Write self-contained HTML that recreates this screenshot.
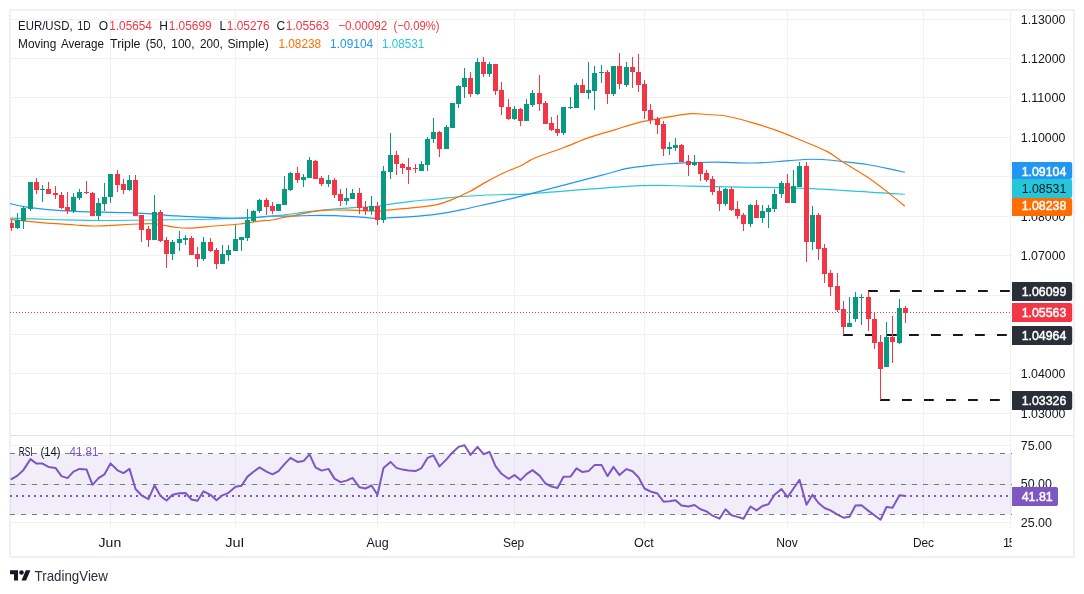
<!DOCTYPE html>
<html lang="en"><head><meta charset="utf-8"><title>EUR/USD 1D chart</title>
<style>html,body{margin:0;padding:0;background:#fff;}body{width:1084px;height:594px;overflow:hidden;}svg{display:block;}text{font-family:"Liberation Sans", Arial, sans-serif;}</style></head><body>
<svg width="1084" height="594" viewBox="0 0 1084 594">
<rect x="0" y="0" width="1084" height="594" fill="#ffffff"/>
<rect x="10" y="10" width="1064" height="547" stroke-width="2" stroke="#eff1f6" fill="none"/>
<g stroke="#f1f1f4" stroke-width="1" shape-rendering="crispEdges">
<line x1="10" y1="19.5" x2="1012" y2="19.5"/>
<line x1="10" y1="58.5" x2="1012" y2="58.5"/>
<line x1="10" y1="97.5" x2="1012" y2="97.5"/>
<line x1="10" y1="137.5" x2="1012" y2="137.5"/>
<line x1="10" y1="176.5" x2="1012" y2="176.5"/>
<line x1="10" y1="216.5" x2="1012" y2="216.5"/>
<line x1="10" y1="255.5" x2="1012" y2="255.5"/>
<line x1="10" y1="295.5" x2="1012" y2="295.5"/>
<line x1="10" y1="334.5" x2="1012" y2="334.5"/>
<line x1="10" y1="373.5" x2="1012" y2="373.5"/>
<line x1="10" y1="413.5" x2="1012" y2="413.5"/>
<line x1="110.5" y1="10" x2="110.5" y2="528"/>
<line x1="235.5" y1="10" x2="235.5" y2="528"/>
<line x1="377.5" y1="10" x2="377.5" y2="528"/>
<line x1="514.5" y1="10" x2="514.5" y2="528"/>
<line x1="644.5" y1="10" x2="644.5" y2="528"/>
<line x1="787.5" y1="10" x2="787.5" y2="528"/>
<line x1="923.5" y1="10" x2="923.5" y2="528"/>
<line x1="1010.5" y1="10" x2="1010.5" y2="528"/>
<line x1="10" y1="445.5" x2="1012" y2="445.5"/>
<line x1="10" y1="484.5" x2="1012" y2="484.5"/>
<line x1="10" y1="522.5" x2="1012" y2="522.5"/>
</g>
<rect x="10" y="453.5" width="1002" height="61" fill="#7e57c2" fill-opacity="0.1"/>
<g stroke="#787b86" stroke-width="1" stroke-dasharray="5 6" shape-rendering="crispEdges">
<line x1="10" y1="453.5" x2="1012" y2="453.5"/>
<line x1="10" y1="484.5" x2="1012" y2="484.5"/>
<line x1="10" y1="514.5" x2="1012" y2="514.5"/>
</g>
<g fill="none" stroke-width="1.2" stroke-linejoin="round" stroke-linecap="butt">
<path stroke="#26c6da" d="M10.1 218.2C16.8 218.4 35.4 219.1 50.5 219.5C65.7 219.8 84.2 220.4 101.0 220.5C117.9 220.6 134.7 220.1 151.6 220.0C168.4 219.8 185.2 219.8 202.1 219.5C218.9 219.1 241.3 218.2 252.6 217.7C263.9 217.2 264.7 217.0 270.1 216.5C275.5 216.0 278.5 215.6 285.3 214.7C292.0 213.9 302.1 212.4 310.5 211.4C318.9 210.5 327.4 209.6 335.8 208.9C344.2 208.2 354.1 207.6 361.0 207.1C368.0 206.7 373.2 206.8 377.5 206.4C381.7 206.0 380.6 205.5 386.3 204.6C392.0 203.8 403.1 202.3 411.6 201.3C420.0 200.4 428.4 199.9 436.8 199.1C445.2 198.3 453.7 197.2 462.1 196.5C470.5 195.9 478.9 195.4 487.3 195.0C495.7 194.6 505.5 194.5 512.6 194.3C519.7 194.1 508.8 195.2 530.0 193.8C551.3 192.3 613.2 187.0 640.0 185.7C666.8 184.5 673.7 186.0 690.5 186.2C707.4 186.5 724.2 187.0 741.0 187.2C757.9 187.5 774.7 187.2 791.6 187.8C808.4 188.3 825.2 189.3 842.1 190.3C858.9 191.2 882.1 192.9 892.6 193.6C903.0 194.2 902.7 194.2 904.7 194.3"/>
<path stroke="#2196f3" d="M10.1 203.5C12.6 204.1 18.5 205.8 25.3 206.8C32.0 207.9 42.1 209.1 50.5 209.9C58.9 210.6 67.4 211.0 75.8 211.4C84.2 211.8 92.6 211.9 101.0 212.1C109.5 212.3 117.9 212.3 126.3 212.6C134.7 212.9 143.1 213.4 151.6 213.9C160.0 214.5 168.4 215.4 176.8 215.9C185.2 216.5 193.7 216.8 202.1 217.2C210.5 217.6 218.9 218.1 227.3 218.2C235.7 218.3 245.5 218.1 252.6 217.7C259.7 217.3 264.7 216.2 270.1 216.0C275.5 215.7 278.5 216.3 285.3 216.2C292.0 216.2 302.1 215.6 310.5 215.5C318.9 215.4 327.4 215.4 335.8 215.7C344.2 216.0 354.1 216.8 361.0 217.2C368.0 217.7 373.2 218.4 377.5 218.5C381.7 218.6 380.6 218.3 386.3 218.0C392.0 217.7 403.1 217.4 411.6 216.7C420.0 216.1 428.4 215.4 436.8 214.2C445.2 213.0 453.7 211.4 462.1 209.7C470.5 208.0 478.9 206.0 487.3 204.1C495.7 202.2 505.5 200.0 512.6 198.3C519.7 196.6 515.1 197.6 530.0 193.8C544.9 189.9 585.9 179.5 602.1 175.2C618.3 171.0 618.9 170.1 627.3 168.4C635.7 166.7 646.3 165.9 652.6 165.1C658.9 164.4 658.9 164.4 665.3 164.0C671.6 163.6 682.1 163.0 690.5 162.7C698.9 162.5 705.3 162.2 715.8 162.2C726.3 162.3 743.1 163.1 753.7 163.0C764.2 162.9 770.5 162.1 778.9 161.5C787.3 160.9 797.0 159.8 804.2 159.5C811.3 159.1 815.5 159.1 821.9 159.5C828.2 159.8 834.5 160.6 842.1 161.5C849.6 162.3 858.9 163.2 867.3 164.5C875.7 165.9 886.4 168.3 892.6 169.6C898.8 170.9 902.7 171.9 904.7 172.3"/>
<path stroke="#ff6d00" d="M10.1 219.5C12.6 219.8 18.5 220.6 25.3 221.2C32.0 221.9 42.1 222.6 50.5 223.3C58.9 223.9 68.6 224.6 75.8 225.0C82.9 225.5 87.1 226.0 93.5 226.0C99.8 226.1 106.1 225.6 113.7 225.3C121.2 224.9 131.8 224.2 138.9 224.0C146.1 223.8 150.3 223.4 156.6 224.0C162.9 224.6 170.9 226.9 176.8 227.5C182.7 228.2 185.7 228.3 192.0 228.1C198.3 227.8 206.7 226.7 214.7 226.0C222.7 225.4 232.0 224.9 240.0 224.0C248.0 223.1 257.7 221.3 262.7 220.7C267.7 220.1 266.3 220.9 270.1 220.3C273.9 219.7 278.5 218.6 285.3 217.2C292.0 215.9 303.8 213.4 310.5 212.2C317.3 211.0 319.4 210.5 325.7 210.2C332.0 209.8 339.8 210.0 348.4 210.2C357.0 210.3 371.1 210.9 377.5 210.9C383.8 210.9 380.6 210.7 386.3 210.2C392.0 209.7 403.1 208.8 411.6 207.9C420.0 207.0 430.1 206.0 436.8 204.6C443.5 203.2 446.5 201.8 452.0 199.6C457.4 197.4 463.8 194.5 469.6 191.5C475.5 188.5 481.4 184.6 487.3 181.4C493.2 178.2 499.5 174.9 505.0 172.3C510.5 169.7 516.0 167.9 520.2 166.0C524.3 164.0 526.9 162.0 530.0 160.4C533.1 158.8 533.2 158.5 538.9 156.3C544.6 154.1 555.8 150.6 564.2 147.5C572.6 144.3 581.0 140.3 589.4 137.4C597.9 134.4 606.3 132.3 614.7 129.8C623.1 127.2 632.0 124.2 640.0 122.2C648.0 120.2 654.3 119.3 662.7 117.9C671.1 116.5 683.4 114.3 690.5 113.7C697.7 113.2 699.8 114.1 705.7 114.5C711.6 114.9 718.3 114.7 725.9 116.0C733.5 117.3 742.7 119.9 751.1 122.3C759.6 124.7 768.0 127.4 776.4 130.4C784.8 133.4 793.2 137.0 801.7 140.5C810.1 144.0 820.2 147.9 826.9 151.4C833.7 154.9 835.3 157.2 842.1 161.5C848.8 165.8 858.9 171.4 867.3 177.1C875.7 182.9 886.4 191.2 892.6 196.1C898.8 200.9 902.7 204.5 904.7 206.2"/>
</g>
<g stroke="#131722" stroke-width="2" stroke-dasharray="9.8 12.2" fill="none">
<line x1="868.0" y1="291" x2="1010" y2="291"/>
<line x1="843.0" y1="335" x2="1010" y2="335"/>
<line x1="880.0" y1="400" x2="1010" y2="400"/>
</g>
<g shape-rendering="crispEdges">
<rect x="11" y="220" width="1" height="11" fill="#f23645"/>
<rect x="10" y="223" width="4" height="5" fill="#f23645"/>
<rect x="17" y="213" width="1" height="16" fill="#089981"/>
<rect x="15" y="220" width="5" height="8" fill="#089981"/>
<rect x="23" y="206" width="1" height="23" fill="#089981"/>
<rect x="21" y="208" width="5" height="13" fill="#089981"/>
<rect x="30" y="182" width="1" height="29" fill="#089981"/>
<rect x="28" y="182" width="5" height="27" fill="#089981"/>
<rect x="36" y="178" width="1" height="16" fill="#f23645"/>
<rect x="34" y="182" width="5" height="8" fill="#f23645"/>
<rect x="42" y="185" width="1" height="17" fill="#089981"/>
<rect x="40" y="189" width="5" height="1" fill="#089981"/>
<rect x="48" y="182" width="1" height="12" fill="#f23645"/>
<rect x="46" y="189" width="5" height="5" fill="#f23645"/>
<rect x="55" y="186" width="1" height="13" fill="#f23645"/>
<rect x="53" y="193" width="5" height="2" fill="#f23645"/>
<rect x="61" y="192" width="1" height="17" fill="#f23645"/>
<rect x="59" y="195" width="5" height="13" fill="#f23645"/>
<rect x="67" y="192" width="1" height="22" fill="#f23645"/>
<rect x="65" y="207" width="5" height="4" fill="#f23645"/>
<rect x="73" y="193" width="1" height="20" fill="#089981"/>
<rect x="71" y="197" width="5" height="14" fill="#089981"/>
<rect x="79" y="189" width="1" height="11" fill="#089981"/>
<rect x="77" y="192" width="5" height="6" fill="#089981"/>
<rect x="86" y="181" width="1" height="13" fill="#f23645"/>
<rect x="84" y="192" width="5" height="1" fill="#f23645"/>
<rect x="92" y="192" width="1" height="24" fill="#f23645"/>
<rect x="90" y="193" width="5" height="23" fill="#f23645"/>
<rect x="98" y="198" width="1" height="22" fill="#089981"/>
<rect x="96" y="203" width="5" height="13" fill="#089981"/>
<rect x="104" y="183" width="1" height="28" fill="#089981"/>
<rect x="102" y="197" width="5" height="7" fill="#089981"/>
<rect x="110" y="174" width="1" height="29" fill="#089981"/>
<rect x="108" y="174" width="5" height="23" fill="#089981"/>
<rect x="117" y="170" width="1" height="22" fill="#f23645"/>
<rect x="115" y="174" width="5" height="11" fill="#f23645"/>
<rect x="123" y="179" width="1" height="15" fill="#f23645"/>
<rect x="121" y="184" width="5" height="6" fill="#f23645"/>
<rect x="129" y="175" width="1" height="16" fill="#089981"/>
<rect x="127" y="180" width="5" height="10" fill="#089981"/>
<rect x="135" y="175" width="1" height="41" fill="#f23645"/>
<rect x="133" y="180" width="5" height="36" fill="#f23645"/>
<rect x="141" y="215" width="1" height="27" fill="#f23645"/>
<rect x="139" y="215" width="5" height="15" fill="#f23645"/>
<rect x="148" y="226" width="1" height="21" fill="#f23645"/>
<rect x="146" y="229" width="5" height="11" fill="#f23645"/>
<rect x="154" y="195" width="1" height="45" fill="#089981"/>
<rect x="152" y="212" width="5" height="28" fill="#089981"/>
<rect x="160" y="210" width="1" height="32" fill="#f23645"/>
<rect x="158" y="212" width="5" height="29" fill="#f23645"/>
<rect x="166" y="237" width="1" height="31" fill="#f23645"/>
<rect x="164" y="240" width="5" height="14" fill="#f23645"/>
<rect x="172" y="240" width="1" height="20" fill="#089981"/>
<rect x="170" y="242" width="5" height="12" fill="#089981"/>
<rect x="179" y="231" width="1" height="20" fill="#089981"/>
<rect x="177" y="239" width="5" height="4" fill="#089981"/>
<rect x="185" y="235" width="1" height="10" fill="#089981"/>
<rect x="183" y="238" width="5" height="2" fill="#089981"/>
<rect x="191" y="236" width="1" height="19" fill="#f23645"/>
<rect x="189" y="238" width="5" height="17" fill="#f23645"/>
<rect x="197" y="247" width="1" height="20" fill="#f23645"/>
<rect x="195" y="254" width="5" height="5" fill="#f23645"/>
<rect x="203" y="237" width="1" height="24" fill="#089981"/>
<rect x="201" y="242" width="5" height="17" fill="#089981"/>
<rect x="210" y="238" width="1" height="14" fill="#f23645"/>
<rect x="208" y="242" width="5" height="9" fill="#f23645"/>
<rect x="216" y="248" width="1" height="21" fill="#f23645"/>
<rect x="214" y="250" width="5" height="14" fill="#f23645"/>
<rect x="222" y="245" width="1" height="19" fill="#089981"/>
<rect x="220" y="254" width="5" height="10" fill="#089981"/>
<rect x="228" y="245" width="1" height="16" fill="#089981"/>
<rect x="226" y="250" width="5" height="5" fill="#089981"/>
<rect x="235" y="225" width="1" height="26" fill="#089981"/>
<rect x="233" y="239" width="5" height="12" fill="#089981"/>
<rect x="241" y="237" width="1" height="14" fill="#089981"/>
<rect x="239" y="237" width="5" height="3" fill="#089981"/>
<rect x="247" y="209" width="1" height="32" fill="#089981"/>
<rect x="245" y="220" width="5" height="18" fill="#089981"/>
<rect x="253" y="210" width="1" height="12" fill="#089981"/>
<rect x="251" y="211" width="5" height="10" fill="#089981"/>
<rect x="259" y="199" width="1" height="14" fill="#089981"/>
<rect x="257" y="200" width="5" height="11" fill="#089981"/>
<rect x="266" y="198" width="1" height="17" fill="#f23645"/>
<rect x="264" y="200" width="5" height="7" fill="#f23645"/>
<rect x="272" y="202" width="1" height="12" fill="#f23645"/>
<rect x="270" y="206" width="5" height="5" fill="#f23645"/>
<rect x="278" y="204" width="1" height="7" fill="#089981"/>
<rect x="276" y="204" width="5" height="7" fill="#089981"/>
<rect x="284" y="176" width="1" height="29" fill="#089981"/>
<rect x="282" y="189" width="5" height="16" fill="#089981"/>
<rect x="290" y="172" width="1" height="19" fill="#089981"/>
<rect x="288" y="173" width="5" height="17" fill="#089981"/>
<rect x="297" y="167" width="1" height="16" fill="#f23645"/>
<rect x="295" y="173" width="5" height="7" fill="#f23645"/>
<rect x="303" y="174" width="1" height="13" fill="#089981"/>
<rect x="301" y="177" width="5" height="3" fill="#089981"/>
<rect x="309" y="157" width="1" height="21" fill="#089981"/>
<rect x="307" y="160" width="5" height="18" fill="#089981"/>
<rect x="315" y="160" width="1" height="19" fill="#f23645"/>
<rect x="313" y="161" width="5" height="18" fill="#f23645"/>
<rect x="321" y="176" width="1" height="10" fill="#f23645"/>
<rect x="319" y="178" width="5" height="6" fill="#f23645"/>
<rect x="328" y="175" width="1" height="12" fill="#089981"/>
<rect x="326" y="180" width="5" height="4" fill="#089981"/>
<rect x="334" y="178" width="1" height="20" fill="#f23645"/>
<rect x="332" y="180" width="5" height="15" fill="#f23645"/>
<rect x="340" y="189" width="1" height="17" fill="#f23645"/>
<rect x="338" y="194" width="5" height="7" fill="#f23645"/>
<rect x="346" y="188" width="1" height="17" fill="#089981"/>
<rect x="344" y="198" width="5" height="3" fill="#089981"/>
<rect x="352" y="189" width="1" height="10" fill="#089981"/>
<rect x="350" y="193" width="5" height="6" fill="#089981"/>
<rect x="359" y="188" width="1" height="26" fill="#f23645"/>
<rect x="357" y="193" width="5" height="15" fill="#f23645"/>
<rect x="365" y="201" width="1" height="14" fill="#f23645"/>
<rect x="363" y="207" width="5" height="4" fill="#f23645"/>
<rect x="371" y="196" width="1" height="19" fill="#089981"/>
<rect x="369" y="206" width="5" height="5" fill="#089981"/>
<rect x="377" y="202" width="1" height="23" fill="#f23645"/>
<rect x="375" y="206" width="5" height="14" fill="#f23645"/>
<rect x="383" y="166" width="1" height="57" fill="#089981"/>
<rect x="381" y="171" width="5" height="49" fill="#089981"/>
<rect x="390" y="133" width="1" height="46" fill="#089981"/>
<rect x="388" y="155" width="5" height="17" fill="#089981"/>
<rect x="396" y="151" width="1" height="24" fill="#f23645"/>
<rect x="394" y="155" width="5" height="9" fill="#f23645"/>
<rect x="402" y="163" width="1" height="11" fill="#f23645"/>
<rect x="400" y="164" width="5" height="4" fill="#f23645"/>
<rect x="408" y="158" width="1" height="26" fill="#f23645"/>
<rect x="406" y="167" width="5" height="3" fill="#f23645"/>
<rect x="415" y="164" width="1" height="9" fill="#f23645"/>
<rect x="413" y="168" width="5" height="1" fill="#f23645"/>
<rect x="421" y="161" width="1" height="10" fill="#089981"/>
<rect x="419" y="164" width="5" height="7" fill="#089981"/>
<rect x="427" y="137" width="1" height="34" fill="#089981"/>
<rect x="425" y="139" width="5" height="26" fill="#089981"/>
<rect x="433" y="118" width="1" height="25" fill="#089981"/>
<rect x="431" y="132" width="5" height="7" fill="#089981"/>
<rect x="439" y="131" width="1" height="26" fill="#f23645"/>
<rect x="437" y="132" width="5" height="17" fill="#f23645"/>
<rect x="446" y="125" width="1" height="24" fill="#089981"/>
<rect x="444" y="127" width="5" height="22" fill="#089981"/>
<rect x="452" y="103" width="1" height="25" fill="#089981"/>
<rect x="450" y="103" width="5" height="25" fill="#089981"/>
<rect x="458" y="85" width="1" height="23" fill="#089981"/>
<rect x="456" y="86" width="5" height="18" fill="#089981"/>
<rect x="464" y="68" width="1" height="30" fill="#089981"/>
<rect x="462" y="78" width="5" height="9" fill="#089981"/>
<rect x="470" y="72" width="1" height="25" fill="#f23645"/>
<rect x="468" y="78" width="5" height="16" fill="#f23645"/>
<rect x="477" y="58" width="1" height="37" fill="#089981"/>
<rect x="475" y="62" width="5" height="32" fill="#089981"/>
<rect x="483" y="57" width="1" height="20" fill="#f23645"/>
<rect x="481" y="62" width="5" height="12" fill="#f23645"/>
<rect x="489" y="62" width="1" height="15" fill="#089981"/>
<rect x="487" y="64" width="5" height="10" fill="#089981"/>
<rect x="495" y="64" width="1" height="31" fill="#f23645"/>
<rect x="493" y="64" width="5" height="27" fill="#f23645"/>
<rect x="501" y="82" width="1" height="33" fill="#f23645"/>
<rect x="499" y="90" width="5" height="17" fill="#f23645"/>
<rect x="508" y="99" width="1" height="21" fill="#f23645"/>
<rect x="506" y="107" width="5" height="12" fill="#f23645"/>
<rect x="514" y="106" width="1" height="14" fill="#089981"/>
<rect x="512" y="109" width="5" height="10" fill="#089981"/>
<rect x="520" y="108" width="1" height="18" fill="#f23645"/>
<rect x="518" y="109" width="5" height="12" fill="#f23645"/>
<rect x="526" y="99" width="1" height="22" fill="#089981"/>
<rect x="524" y="104" width="5" height="17" fill="#089981"/>
<rect x="532" y="90" width="1" height="17" fill="#089981"/>
<rect x="530" y="93" width="5" height="12" fill="#089981"/>
<rect x="539" y="75" width="1" height="36" fill="#f23645"/>
<rect x="537" y="93" width="5" height="11" fill="#f23645"/>
<rect x="545" y="101" width="1" height="23" fill="#f23645"/>
<rect x="543" y="103" width="5" height="21" fill="#f23645"/>
<rect x="551" y="117" width="1" height="14" fill="#f23645"/>
<rect x="549" y="123" width="5" height="7" fill="#f23645"/>
<rect x="557" y="115" width="1" height="21" fill="#f23645"/>
<rect x="555" y="129" width="5" height="4" fill="#f23645"/>
<rect x="563" y="107" width="1" height="28" fill="#089981"/>
<rect x="561" y="107" width="5" height="26" fill="#089981"/>
<rect x="570" y="97" width="1" height="12" fill="#089981"/>
<rect x="568" y="107" width="5" height="1" fill="#089981"/>
<rect x="576" y="83" width="1" height="25" fill="#089981"/>
<rect x="574" y="85" width="5" height="23" fill="#089981"/>
<rect x="582" y="79" width="1" height="14" fill="#f23645"/>
<rect x="580" y="85" width="5" height="8" fill="#f23645"/>
<rect x="588" y="62" width="1" height="37" fill="#089981"/>
<rect x="586" y="90" width="5" height="3" fill="#089981"/>
<rect x="594" y="66" width="1" height="44" fill="#089981"/>
<rect x="592" y="73" width="5" height="18" fill="#089981"/>
<rect x="601" y="65" width="1" height="18" fill="#089981"/>
<rect x="599" y="72" width="5" height="1" fill="#089981"/>
<rect x="607" y="70" width="1" height="34" fill="#f23645"/>
<rect x="605" y="72" width="5" height="22" fill="#f23645"/>
<rect x="613" y="66" width="1" height="30" fill="#089981"/>
<rect x="611" y="66" width="5" height="28" fill="#089981"/>
<rect x="619" y="53" width="1" height="36" fill="#f23645"/>
<rect x="617" y="66" width="5" height="18" fill="#f23645"/>
<rect x="626" y="62" width="1" height="25" fill="#089981"/>
<rect x="624" y="67" width="5" height="18" fill="#089981"/>
<rect x="632" y="57" width="1" height="31" fill="#f23645"/>
<rect x="630" y="67" width="5" height="5" fill="#f23645"/>
<rect x="638" y="54" width="1" height="38" fill="#f23645"/>
<rect x="636" y="72" width="5" height="13" fill="#f23645"/>
<rect x="644" y="80" width="1" height="39" fill="#f23645"/>
<rect x="642" y="84" width="5" height="27" fill="#f23645"/>
<rect x="650" y="104" width="1" height="20" fill="#f23645"/>
<rect x="648" y="110" width="5" height="10" fill="#f23645"/>
<rect x="657" y="117" width="1" height="17" fill="#f23645"/>
<rect x="655" y="119" width="5" height="6" fill="#f23645"/>
<rect x="663" y="121" width="1" height="35" fill="#f23645"/>
<rect x="661" y="124" width="5" height="25" fill="#f23645"/>
<rect x="669" y="142" width="1" height="13" fill="#089981"/>
<rect x="667" y="147" width="5" height="2" fill="#089981"/>
<rect x="675" y="138" width="1" height="13" fill="#089981"/>
<rect x="673" y="145" width="5" height="3" fill="#089981"/>
<rect x="681" y="144" width="1" height="18" fill="#f23645"/>
<rect x="679" y="145" width="5" height="17" fill="#f23645"/>
<rect x="688" y="155" width="1" height="21" fill="#f23645"/>
<rect x="686" y="161" width="5" height="4" fill="#f23645"/>
<rect x="694" y="155" width="1" height="11" fill="#089981"/>
<rect x="692" y="162" width="5" height="3" fill="#089981"/>
<rect x="700" y="162" width="1" height="19" fill="#f23645"/>
<rect x="698" y="162" width="5" height="12" fill="#f23645"/>
<rect x="706" y="170" width="1" height="12" fill="#f23645"/>
<rect x="704" y="173" width="5" height="7" fill="#f23645"/>
<rect x="712" y="176" width="1" height="19" fill="#f23645"/>
<rect x="710" y="179" width="5" height="13" fill="#f23645"/>
<rect x="719" y="187" width="1" height="24" fill="#f23645"/>
<rect x="717" y="191" width="5" height="13" fill="#f23645"/>
<rect x="725" y="188" width="1" height="18" fill="#089981"/>
<rect x="723" y="189" width="5" height="15" fill="#089981"/>
<rect x="731" y="187" width="1" height="24" fill="#f23645"/>
<rect x="729" y="189" width="5" height="21" fill="#f23645"/>
<rect x="737" y="201" width="1" height="18" fill="#f23645"/>
<rect x="735" y="209" width="5" height="7" fill="#f23645"/>
<rect x="743" y="213" width="1" height="18" fill="#f23645"/>
<rect x="741" y="215" width="5" height="9" fill="#f23645"/>
<rect x="750" y="204" width="1" height="23" fill="#089981"/>
<rect x="748" y="205" width="5" height="19" fill="#089981"/>
<rect x="756" y="200" width="1" height="18" fill="#f23645"/>
<rect x="754" y="205" width="5" height="13" fill="#f23645"/>
<rect x="762" y="205" width="1" height="18" fill="#089981"/>
<rect x="760" y="211" width="5" height="7" fill="#089981"/>
<rect x="768" y="205" width="1" height="23" fill="#089981"/>
<rect x="766" y="208" width="5" height="4" fill="#089981"/>
<rect x="774" y="189" width="1" height="23" fill="#089981"/>
<rect x="772" y="194" width="5" height="15" fill="#089981"/>
<rect x="781" y="181" width="1" height="17" fill="#089981"/>
<rect x="779" y="183" width="5" height="11" fill="#089981"/>
<rect x="787" y="174" width="1" height="29" fill="#f23645"/>
<rect x="785" y="183" width="5" height="20" fill="#f23645"/>
<rect x="793" y="170" width="1" height="33" fill="#089981"/>
<rect x="791" y="186" width="5" height="17" fill="#089981"/>
<rect x="799" y="162" width="1" height="25" fill="#089981"/>
<rect x="797" y="166" width="5" height="21" fill="#089981"/>
<rect x="806" y="162" width="1" height="100" fill="#f23645"/>
<rect x="804" y="166" width="5" height="76" fill="#f23645"/>
<rect x="812" y="206" width="1" height="44" fill="#089981"/>
<rect x="810" y="215" width="5" height="27" fill="#089981"/>
<rect x="818" y="213" width="1" height="47" fill="#f23645"/>
<rect x="816" y="215" width="5" height="34" fill="#f23645"/>
<rect x="824" y="244" width="1" height="39" fill="#f23645"/>
<rect x="822" y="248" width="5" height="26" fill="#f23645"/>
<rect x="830" y="270" width="1" height="26" fill="#f23645"/>
<rect x="828" y="273" width="5" height="14" fill="#f23645"/>
<rect x="837" y="273" width="1" height="39" fill="#f23645"/>
<rect x="835" y="286" width="5" height="24" fill="#f23645"/>
<rect x="843" y="301" width="1" height="34" fill="#f23645"/>
<rect x="841" y="309" width="5" height="18" fill="#f23645"/>
<rect x="849" y="297" width="1" height="30" fill="#089981"/>
<rect x="847" y="323" width="5" height="4" fill="#089981"/>
<rect x="855" y="292" width="1" height="30" fill="#089981"/>
<rect x="853" y="297" width="5" height="22" fill="#089981"/>
<rect x="861" y="294" width="1" height="31" fill="#089981"/>
<rect x="859" y="297" width="5" height="1" fill="#089981"/>
<rect x="868" y="291" width="1" height="40" fill="#f23645"/>
<rect x="866" y="297" width="5" height="22" fill="#f23645"/>
<rect x="874" y="312" width="1" height="37" fill="#f23645"/>
<rect x="872" y="319" width="5" height="24" fill="#f23645"/>
<rect x="880" y="335" width="1" height="65" fill="#f23645"/>
<rect x="878" y="342" width="5" height="27" fill="#f23645"/>
<rect x="886" y="322" width="1" height="45" fill="#089981"/>
<rect x="884" y="337" width="5" height="30" fill="#089981"/>
<rect x="892" y="316" width="1" height="47" fill="#f23645"/>
<rect x="890" y="337" width="5" height="5" fill="#f23645"/>
<rect x="899" y="299" width="1" height="45" fill="#089981"/>
<rect x="897" y="308" width="5" height="35" fill="#089981"/>
<rect x="905" y="306" width="1" height="17" fill="#f23645"/>
<rect x="903" y="308" width="5" height="5" fill="#f23645"/>
</g>
<line x1="10" y1="312.5" x2="1012" y2="312.5" stroke="#f23645" stroke-width="1" stroke-dasharray="1 2" shape-rendering="crispEdges"/>
<polyline fill="none" stroke="#7e57c2" stroke-width="2" stroke-linejoin="round" stroke-linecap="round" points="11.5,479.1 17.5,475.6 23.5,469.9 30.5,459.1 36.5,463.6 42.5,463.6 48.5,466.9 55.5,467.9 61.5,476.1 67.5,478.1 73.5,471.6 79.5,468.9 86.5,469.4 92.5,484.8 98.5,478.1 104.5,474.3 110.5,463.4 117.5,470.3 123.5,473.1 129.5,468.9 135.5,489.0 141.5,495.3 148.5,499.2 154.5,485.3 160.5,496.0 166.5,500.5 172.5,494.8 179.5,493.3 185.5,493.0 191.5,499.5 197.5,500.7 203.5,491.3 210.5,494.8 216.5,500.2 222.5,495.3 228.5,492.8 235.5,486.8 241.5,485.8 247.5,476.6 253.5,471.8 259.5,467.4 266.5,471.6 272.5,474.3 278.5,471.1 284.5,464.1 290.5,457.9 297.5,461.9 303.5,461.1 309.5,454.4 315.5,467.4 321.5,470.6 328.5,468.9 334.5,478.6 340.5,482.1 346.5,480.6 352.5,477.8 359.5,487.3 365.5,488.5 371.5,485.5 377.5,494.8 383.5,467.9 390.5,461.9 396.5,467.9 402.5,469.6 408.5,470.6 415.5,471.1 421.5,468.1 427.5,457.9 433.5,455.4 439.5,466.4 446.5,459.4 452.5,452.4 458.5,446.9 464.5,445.2 470.5,454.9 477.5,446.9 483.5,454.2 489.5,451.9 495.5,466.1 501.5,473.8 508.5,478.8 514.5,475.1 520.5,480.1 526.5,474.1 532.5,470.1 539.5,475.6 545.5,483.5 551.5,486.5 557.5,488.0 563.5,476.8 570.5,476.6 576.5,468.4 582.5,472.1 588.5,471.1 594.5,465.1 601.5,464.9 607.5,476.1 613.5,466.9 619.5,475.1 626.5,469.1 632.5,471.3 638.5,477.3 644.5,488.5 650.5,491.5 657.5,493.5 663.5,501.7 669.5,501.2 675.5,500.2 681.5,505.5 688.5,506.5 694.5,505.0 700.5,509.2 706.5,511.4 712.5,515.7 719.5,518.7 725.5,509.2 731.5,515.2 737.5,516.9 743.5,518.7 750.5,506.5 756.5,510.4 762.5,506.0 768.5,504.2 774.5,494.8 781.5,489.0 787.5,497.2 793.5,488.5 799.5,479.8 806.5,504.7 812.5,494.8 818.5,503.0 824.5,508.0 830.5,510.4 837.5,514.7 843.5,517.7 849.5,516.7 855.5,505.5 861.5,505.2 868.5,510.9 874.5,515.2 880.5,519.7 886.5,507.0 892.5,507.7 899.5,495.3 905.5,496.0"/>
<line x1="10" y1="496" x2="1012" y2="496" stroke="#7e57c2" stroke-width="2" stroke-dasharray="2 4" shape-rendering="crispEdges"/>
<rect x="1012" y="11" width="61" height="545" fill="#ffffff"/>
<g stroke="#e0e3eb" shape-rendering="crispEdges" fill="none">
<line x1="10" y1="435.5" x2="1074" y2="435.5" stroke-width="1"/>
</g>
<text x="1020.8" y="23.8" font-size="12.3px" fill="#131722" text-anchor="start" textLength="44.6" lengthAdjust="spacingAndGlyphs" >1.13000</text>
<text x="1020.8" y="62.8" font-size="12.3px" fill="#131722" text-anchor="start" textLength="44.6" lengthAdjust="spacingAndGlyphs" >1.12000</text>
<text x="1020.8" y="101.8" font-size="12.3px" fill="#131722" text-anchor="start" textLength="44.6" lengthAdjust="spacingAndGlyphs" >1.11000</text>
<text x="1020.8" y="141.8" font-size="12.3px" fill="#131722" text-anchor="start" textLength="44.6" lengthAdjust="spacingAndGlyphs" >1.10000</text>
<text x="1020.8" y="180.8" font-size="12.3px" fill="#131722" text-anchor="start" textLength="44.6" lengthAdjust="spacingAndGlyphs" >1.09000</text>
<text x="1020.8" y="220.8" font-size="12.3px" fill="#131722" text-anchor="start" textLength="44.6" lengthAdjust="spacingAndGlyphs" >1.08000</text>
<text x="1020.8" y="259.8" font-size="12.3px" fill="#131722" text-anchor="start" textLength="44.6" lengthAdjust="spacingAndGlyphs" >1.07000</text>
<text x="1020.8" y="299.8" font-size="12.3px" fill="#131722" text-anchor="start" textLength="44.6" lengthAdjust="spacingAndGlyphs" >1.06000</text>
<text x="1020.8" y="338.8" font-size="12.3px" fill="#131722" text-anchor="start" textLength="44.6" lengthAdjust="spacingAndGlyphs" >1.05000</text>
<text x="1020.8" y="377.8" font-size="12.3px" fill="#131722" text-anchor="start" textLength="44.6" lengthAdjust="spacingAndGlyphs" >1.04000</text>
<text x="1020.8" y="417.8" font-size="12.3px" fill="#131722" text-anchor="start" textLength="44.6" lengthAdjust="spacingAndGlyphs" >1.03000</text>
<text x="1020.8" y="449.8" font-size="12.3px" fill="#131722" text-anchor="start" textLength="31.2" lengthAdjust="spacingAndGlyphs" >75.00</text>
<text x="1020.8" y="488.3" font-size="12.3px" fill="#131722" text-anchor="start" textLength="31.2" lengthAdjust="spacingAndGlyphs" >50.00</text>
<text x="1020.8" y="526.8" font-size="12.3px" fill="#131722" text-anchor="start" textLength="31.2" lengthAdjust="spacingAndGlyphs" >25.00</text>
<path d="M1012 162.0H1070.2a2 2 0 0 1 2 2V177.0a2 2 0 0 1 -2 2H1012Z" fill="#2196f3"/>
<text x="1021.7" y="175.9" font-size="12.3px" fill="#ffffff" text-anchor="start" textLength="44.6" lengthAdjust="spacingAndGlyphs" stroke="#ffffff" stroke-width="0.45">1.09104</text>
<path d="M1012 179.0H1070.2a2 2 0 0 1 2 2V196.0a2 2 0 0 1 -2 2H1012Z" fill="#26c6da"/>
<text x="1021.7" y="192.9" font-size="12.3px" fill="#131722" text-anchor="start" textLength="44.6" lengthAdjust="spacingAndGlyphs" >1.08531</text>
<path d="M1012 198.0H1070.2a2 2 0 0 1 2 2V214.0a2 2 0 0 1 -2 2H1012Z" fill="#ff6d00"/>
<text x="1021.7" y="210.4" font-size="12.3px" fill="#ffffff" text-anchor="start" textLength="44.6" lengthAdjust="spacingAndGlyphs" stroke="#ffffff" stroke-width="0.45">1.08238</text>
<path d="M1012 282.0H1070.2a2 2 0 0 1 2 2V299.0a2 2 0 0 1 -2 2H1012Z" fill="#2a2e39"/>
<text x="1021.7" y="296.0" font-size="12.3px" fill="#ffffff" text-anchor="start" textLength="44.6" lengthAdjust="spacingAndGlyphs" stroke="#ffffff" stroke-width="0.45">1.06099</text>
<path d="M1012 303.0H1070.2a2 2 0 0 1 2 2V320.0a2 2 0 0 1 -2 2H1012Z" fill="#f23645"/>
<text x="1021.7" y="316.6" font-size="12.3px" fill="#ffffff" text-anchor="start" textLength="44.6" lengthAdjust="spacingAndGlyphs" stroke="#ffffff" stroke-width="0.45">1.05563</text>
<path d="M1012 326.0H1070.2a2 2 0 0 1 2 2V343.0a2 2 0 0 1 -2 2H1012Z" fill="#2a2e39"/>
<text x="1021.7" y="339.9" font-size="12.3px" fill="#ffffff" text-anchor="start" textLength="44.6" lengthAdjust="spacingAndGlyphs" stroke="#ffffff" stroke-width="0.45">1.04964</text>
<path d="M1012 391.0H1070.2a2 2 0 0 1 2 2V408.0a2 2 0 0 1 -2 2H1012Z" fill="#2a2e39"/>
<text x="1021.7" y="404.9" font-size="12.3px" fill="#ffffff" text-anchor="start" textLength="44.6" lengthAdjust="spacingAndGlyphs" stroke="#ffffff" stroke-width="0.45">1.03326</text>
<path d="M1012 487.0H1056.0a2 2 0 0 1 2 2V504.0a2 2 0 0 1 -2 2H1012Z" fill="#7e57c2"/>
<text x="1021.7" y="500.8" font-size="12.3px" fill="#ffffff" text-anchor="start" textLength="31.0" lengthAdjust="spacingAndGlyphs" stroke="#ffffff" stroke-width="0.45">41.81</text>
<text x="109.9" y="546.7" font-size="12.5px" fill="#131722" text-anchor="middle" textLength="22.6" lengthAdjust="spacingAndGlyphs" >Jun</text>
<text x="234.6" y="546.7" font-size="12.5px" fill="#131722" text-anchor="middle" textLength="18.6" lengthAdjust="spacingAndGlyphs" >Jul</text>
<text x="377.6" y="546.7" font-size="12.5px" fill="#131722" text-anchor="middle" textLength="22.2" lengthAdjust="spacingAndGlyphs" >Aug</text>
<text x="513.6" y="546.7" font-size="12.5px" fill="#131722" text-anchor="middle" textLength="21.2" lengthAdjust="spacingAndGlyphs" >Sep</text>
<text x="643.9" y="546.7" font-size="12.5px" fill="#131722" text-anchor="middle" textLength="19.6" lengthAdjust="spacingAndGlyphs" >Oct</text>
<text x="787.0" y="546.7" font-size="12.5px" fill="#131722" text-anchor="middle" textLength="21.5" lengthAdjust="spacingAndGlyphs" >Nov</text>
<text x="923.5" y="546.7" font-size="12.5px" fill="#131722" text-anchor="middle" textLength="21.1" lengthAdjust="spacingAndGlyphs" >Dec</text>
<clipPath id="tc"><rect x="10" y="528" width="1001.7" height="28"/></clipPath>
<g clip-path="url(#tc)">
<text x="1003.0" y="546.7" font-size="12.5px" fill="#131722" text-anchor="start" letter-spacing="-1.1">15</text>
</g>
<text x="18.1" y="30.3" font-size="12.6px" fill="#131722" text-anchor="start" textLength="54.5" lengthAdjust="spacingAndGlyphs" >EUR/USD,</text>
<text x="77.5" y="30.3" font-size="12.6px" fill="#131722" text-anchor="start" textLength="13.1" lengthAdjust="spacingAndGlyphs" >1D</text>
<text x="108.2" y="30.3" font-size="12.0px" fill="#131722" text-anchor="end" >O</text>
<text x="109.3" y="30.3" font-size="12.6px" fill="#f23645" text-anchor="start" textLength="42.6" lengthAdjust="spacingAndGlyphs" >1.05654</text>
<text x="167.8" y="30.3" font-size="12.0px" fill="#131722" text-anchor="end" >H</text>
<text x="168.7" y="30.3" font-size="12.6px" fill="#f23645" text-anchor="start" textLength="42.9" lengthAdjust="spacingAndGlyphs" >1.05699</text>
<text x="226.2" y="30.3" font-size="12.0px" fill="#131722" text-anchor="end" >L</text>
<text x="226.8" y="30.3" font-size="12.6px" fill="#f23645" text-anchor="start" textLength="42.9" lengthAdjust="spacingAndGlyphs" >1.05276</text>
<text x="285.2" y="30.3" font-size="12.0px" fill="#131722" text-anchor="end" >C</text>
<text x="285.8" y="30.3" font-size="12.6px" fill="#f23645" text-anchor="start" textLength="43.3" lengthAdjust="spacingAndGlyphs" >1.05563</text>
<text x="338.2" y="30.3" font-size="12.6px" fill="#f23645" text-anchor="start" textLength="49.2" lengthAdjust="spacingAndGlyphs" >−0.00092</text>
<text x="393.4" y="30.3" font-size="12.6px" fill="#f23645" text-anchor="start" textLength="46.2" lengthAdjust="spacingAndGlyphs" >(−0.09%)</text>
<text x="18.1" y="48.3" font-size="12.6px" fill="#131722" text-anchor="start" textLength="38.2" lengthAdjust="spacingAndGlyphs" >Moving</text>
<text x="60.9" y="48.3" font-size="12.6px" fill="#131722" text-anchor="start" textLength="43.1" lengthAdjust="spacingAndGlyphs" >Average</text>
<text x="110.1" y="48.3" font-size="12.6px" fill="#131722" text-anchor="start" textLength="30.4" lengthAdjust="spacingAndGlyphs" >Triple</text>
<text x="145.8" y="48.3" font-size="12.6px" fill="#131722" text-anchor="start" textLength="20.2" lengthAdjust="spacingAndGlyphs" >(50,</text>
<text x="171.3" y="48.3" font-size="12.6px" fill="#131722" text-anchor="start" textLength="23.3" lengthAdjust="spacingAndGlyphs" >100,</text>
<text x="199.9" y="48.3" font-size="12.6px" fill="#131722" text-anchor="start" textLength="22.9" lengthAdjust="spacingAndGlyphs" >200,</text>
<text x="227.5" y="48.3" font-size="12.6px" fill="#131722" text-anchor="start" textLength="41.3" lengthAdjust="spacingAndGlyphs" >Simple)</text>
<text x="278.4" y="48.3" font-size="12.6px" fill="#ff6d00" text-anchor="start" textLength="42.8" lengthAdjust="spacingAndGlyphs" >1.08238</text>
<text x="330.1" y="48.3" font-size="12.6px" fill="#2196f3" text-anchor="start" textLength="43.1" lengthAdjust="spacingAndGlyphs" >1.09104</text>
<text x="382.1" y="48.3" font-size="12.6px" fill="#26c6da" text-anchor="start" textLength="42.0" lengthAdjust="spacingAndGlyphs" >1.08531</text>
<text x="18.8" y="456.2" font-size="12.6px" fill="#131722" text-anchor="start" textLength="13.8" lengthAdjust="spacingAndGlyphs" >RSI</text>
<text x="40.4" y="456.2" font-size="12.6px" fill="#131722" text-anchor="start" textLength="20.1" lengthAdjust="spacingAndGlyphs" >(14)</text>
<text x="69.4" y="456.2" font-size="12.6px" fill="#7e57c2" text-anchor="start" textLength="29.2" lengthAdjust="spacingAndGlyphs" >41.81</text>
<g fill="#131722" transform="translate(10 567.95) scale(0.5746 0.567)">
<path d="M14 22H7V11H0V4h14z"/>
<circle cx="20" cy="8" r="4"/>
<path d="M28 22h-8l7.5-18h8z"/>
</g>
<text x="34.6" y="580.8" font-size="14.2px" fill="#2a2e39" text-anchor="start" textLength="73.3" lengthAdjust="spacingAndGlyphs" >TradingView</text>
</svg></body></html>
